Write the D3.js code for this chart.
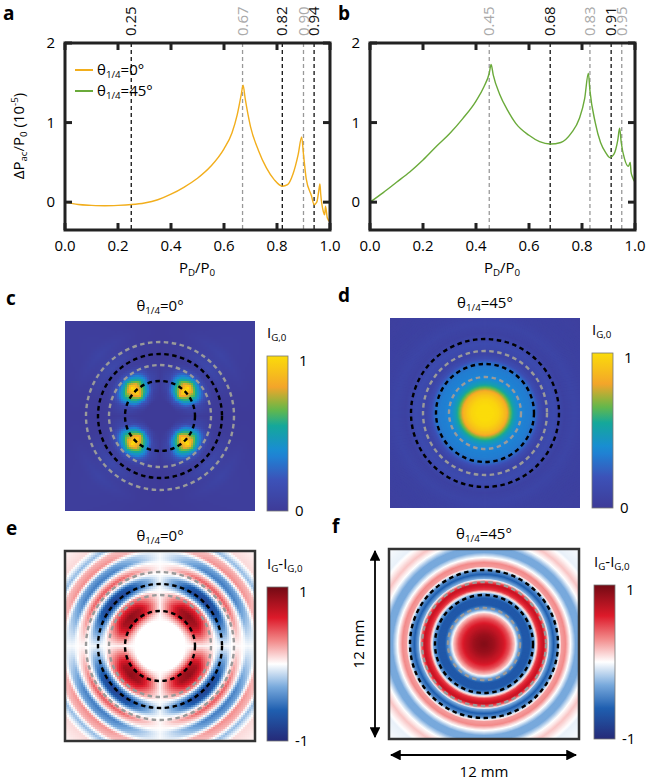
<!DOCTYPE html>
<html><head><meta charset="utf-8">
<script src="https://cdn.jsdelivr.net/npm/d3@7"></script>
<style>body{margin:0;background:#fff}svg{font-family:"Open Sans",sans-serif}</style>
</head><body><svg id="fig" width="646" height="782"></svg>
<script>
// curve in panel a (theta=0)
const aX = [0,.05,.1,.15,.2,.25,.3,.35,.4,.45,.5,.55,.6,.63,.65,.665,.672,.68,.7,.73,.76,.79,.82,.84,.86,.88,.893,.9,.91,.93,.94,.95,.958,.962,.965,.975,.98,.983,.99,1.0];
const aY = [0,-.03,-.04,-.045,-.04,-.03,-.01,.03,.1,.19,.3,.45,.67,.87,1.1,1.35,1.47,1.3,.95,.65,.43,.28,.2,.22,.35,.6,.82,.6,.3,.08,-.03,0,.15,.23,.1,-.12,-.16,-.05,-.2,-.25];
// curve in panel b (theta=45)
const bX = [0,.05,.1,.15,.2,.25,.3,.35,.4,.43,.45,.457,.465,.49,.52,.55,.6,.64,.68,.72,.76,.79,.81,.824,.83,.85,.87,.89,.905,.92,.935,.942,.948,.96,.975,.982,.985,.99,1.0];
const bY = [0,.12,.25,.38,.53,.7,.86,1.05,1.27,1.45,1.62,1.73,1.6,1.35,1.15,.99,.84,.76,.73,.75,.87,1.05,1.3,1.62,1.4,1.0,.75,.62,.56,.6,.78,.93,.75,.55,.45,.5,.38,.32,.25];
const aMarks = [0.25,0.67,0.82,0.90,0.94];
const aGray  = [false,true,false,true,false];
const bMarks = [0.45,0.68,0.83,0.91,0.95];
const bGray  = [true,false,true,false,true];
const yTicks = [0,1,2];
const xTicks = [0,.2,.4,.6,.8,1];

// radial profiles of the maps (radius in px, value)
const cR = [0,15,22,28,33,40,46,52,57,62,67,72,78,86,95,110,140];
const cV = [0,0,.3,.8,1,1,.6,.2,.06,.05,.12,.1,.05,.08,.04,.03,.02];
const angDeg = [0,15,30,45,60,75,90];
const cAng = [.02,.12,.6,1,.6,.12,.02];
const dR = [0,8,14,18,22,26,30,35,40,45,50,55,60,65,70,75,80,90,100,120,140];
const dV = [1,1,.97,.92,.85,.65,.48,.38,.35,.34,.3,.15,.08,.12,.14,.1,.06,.09,.06,.05,.04];
const eR = [0,25,30,36,42,48,53,57,62,67,72,77,82,87,92,98,104,110,118,140];
const eV = [0,0,.3,.85,.9,.6,.3,-.3,-.85,-.7,0,.45,.1,-.5,-.35,.3,.2,-.25,.1,0];
const eAng = [.05,.5,.9,1,.9,.5,.05];
const fR = [0,10,20,26,31,35,40,46,51,55,60,63,66,70,74,78,82,87,92,98,104,110,120,140];
const fV = [.95,.85,.65,.45,.15,-.3,-.65,-.65,-.3,.5,.7,.4,-.3,-.6,-.4,.25,.3,0,-.3,-.3,0,.15,-.05,0];

const svg = d3.select("#fig");
const colParula = d3.scaleLinear()
  .domain([0,.2,.38,.55,.66,.8,1])
  .range(["#3e3b98","#3c52b8","#1a8ad8","#15a89a","#6ab945","#f3a52a","#fbdc0a"]).clamp(true);
const colDiv = d3.scaleLinear()
  .domain([-1,-.6,-.3,0,.3,.6,1])
  .range(["#252a78","#1f5fb0","#78a9dc","#ffffff","#f28a8a","#dd1a2a","#730a14"]).clamp(true);

function sub(t, main, s) {
  t.append("tspan").text(main);
  t.append("tspan").attr("baseline-shift","-30%").attr("font-size","0.65em").text(s);
}

function linePanel(ox, label, lx, X, Y, col, marks, gray, legend) {
  const x = d3.scaleLinear().domain([0,1]).range([ox, ox + 265]);
  const y = d3.scaleLinear().domain([-0.35,2]).range([230, 43]);
  const g = svg.append("g");
  g.append("text").attr("x", lx).attr("y", 20).attr("font-weight","bold").attr("font-size",19).text(label);
  marks.forEach((m,i) => {
    g.append("line").attr("x1",x(m)).attr("x2",x(m)).attr("y1",43).attr("y2",230)
      .attr("stroke", gray[i] ? "#999" : "#111").attr("stroke-width",1.3).attr("stroke-dasharray","4,3");
    g.append("text").attr("transform",`translate(${x(m)+5},36) rotate(-90)`)
      .attr("font-size",15).attr("fill", gray[i] ? "#aaa" : "#111").text(m.toFixed(2));
  });
  const line = d3.line().x((d,i) => x(X[i])).y(d => y(d)).curve(d3.curveMonotoneX);
  g.append("path").attr("d", line(Y)).attr("fill","none").attr("stroke",col).attr("stroke-width",1.4);
  g.append("rect").attr("x",ox).attr("y",43).attr("width",265).attr("height",187)
    .attr("fill","none").attr("stroke","#222").attr("stroke-width",3);
  xTicks.forEach(t => {
    g.append("line").attr("x1",x(t)).attr("x2",x(t)).attr("y1",43).attr("y2",50).attr("stroke","#222").attr("stroke-width",3);
    g.append("line").attr("x1",x(t)).attr("x2",x(t)).attr("y1",223).attr("y2",230).attr("stroke","#222").attr("stroke-width",3);
    g.append("text").attr("x",x(t)).attr("y",251).attr("text-anchor","middle").attr("font-size",15).text(t.toFixed(1));
  });
  yTicks.forEach(t => {
    g.append("line").attr("x1",ox).attr("x2",ox+7).attr("y1",y(t)).attr("y2",y(t)).attr("stroke","#222").attr("stroke-width",3);
    g.append("line").attr("x1",ox+258).attr("x2",ox+265).attr("y1",y(t)).attr("y2",y(t)).attr("stroke","#222").attr("stroke-width",3);
    g.append("text").attr("x",ox-10).attr("y",y(t)+5).attr("text-anchor","end").attr("font-size",15).text(t);
  });
  const xl = g.append("text").attr("x",ox+132).attr("y",273).attr("text-anchor","middle").attr("font-size",15);
  sub(xl,"P","D"); xl.append("tspan").text("/"); sub(xl,"P","0");
  if (legend) {
    const yl = g.append("text").attr("transform",`translate(24,136) rotate(-90)`).attr("text-anchor","middle").attr("font-size",15);
    yl.append("tspan").text("ΔP"); yl.append("tspan").attr("baseline-shift","-30%").attr("font-size","0.65em").text("ac");
    yl.append("tspan").text("/P"); yl.append("tspan").attr("baseline-shift","-30%").attr("font-size","0.65em").text("0");
    yl.append("tspan").text(" (10"); yl.append("tspan").attr("baseline-shift","super").attr("font-size","0.65em").text("-5");
    yl.append("tspan").text(")");
    [["0°","#f2ae1c",70],["45°","#6aaa3a",91]].forEach(([s,c,yy]) => {
      g.append("line").attr("x1",75).attr("x2",93).attr("y1",yy).attr("y2",yy).attr("stroke",c).attr("stroke-width",2);
      const t = g.append("text").attr("x",97).attr("y",yy+5).attr("font-size",15);
      sub(t,"θ","1/4"); t.append("tspan").text("=" + s);
    });
  }
}

linePanel(65,"a",3,aX,aY,"#f2ae1c",aMarks,aGray,true);
linePanel(370,"b",338,bX,bY,"#6aaa3a",bMarks,bGray,false);

function mapPanel(o) {
  const g = svg.append("g");
  const cx = o.x0 + 95, cy = o.y0 + 95;
  g.append("text").attr("x", o.lx).attr("y", o.y0 - 16).attr("font-weight","bold").attr("font-size",19).text(o.label);
  const tt = g.append("text").attr("x",cx).attr("y",o.y0 - 10).attr("text-anchor","middle").attr("font-size",15);
  sub(tt,"θ","1/4"); tt.append("tspan").text("=" + o.ang);
  const clipId = "clip" + o.label;
  g.append("clipPath").attr("id",clipId).append("rect").attr("x",o.x0).attr("y",o.y0).attr("width",190).attr("height",190);
  const rad = d3.scaleLinear().domain(o.R).range(o.V).clamp(true);
  const ang = d3.scaleLinear().domain(angDeg).range(o.A || angDeg.map(() => 1));
  const img = g.append("g").attr("clip-path",`url(#${clipId})`);
  img.append("rect").attr("x",o.x0).attr("y",o.y0).attr("width",190).attr("height",190).attr("fill",o.col(o.bg));
  if (!o.A) {
    const rs = d3.range(140, 0, -1);
    img.selectAll("circle").data(rs).join("circle").attr("cx",cx).attr("cy",cy).attr("r",d => d)
      .attr("fill", d => o.col(rad(d)));
  } else {
    const step = 2, cells = [];
    for (let i = 0; i < 95; i++) for (let j = 0; j < 95; j++) {
      const px = o.x0 + i*step, py = o.y0 + j*step;
      const dx = px + 1 - cx, dy = py + 1 - cy;
      const r = Math.hypot(dx,dy);
      let a = Math.abs(Math.atan2(dy,dx)) * 180 / Math.PI; if (a > 90) a = 180 - a;
      cells.push({px,py,v: rad(r) * ang(a)});
    }
    img.selectAll("rect.c").data(cells).join("rect").attr("class","c").attr("x",d=>d.px).attr("y",d=>d.py)
      .attr("width",step+0.3).attr("height",step+0.3).attr("fill",d => o.col(d.v));
  }
  o.rings.forEach(([r,gray]) => {
    img.append("circle").attr("cx",cx).attr("cy",cy).attr("r",r).attr("fill","none")
      .attr("stroke", gray ? "#9a9a9a" : "#000").attr("stroke-width",2.4).attr("stroke-dasharray","4.5,3.5");
  });
  if (o.frame) g.append("rect").attr("x",o.x0).attr("y",o.y0).attr("width",190).attr("height",190)
    .attr("fill","none").attr("stroke","#333").attr("stroke-width",2.5);
  // colorbar
  const gid = "grad" + o.label;
  const gr = g.append("defs").append("linearGradient").attr("id",gid).attr("x1",0).attr("x2",0).attr("y1",1).attr("y2",0);
  const dom = o.col.domain(), lo = dom[0], hi = dom[dom.length-1];
  d3.range(0,1.001,0.05).forEach(t => gr.append("stop").attr("offset",t).attr("stop-color",o.col(lo + t*(hi-lo))));
  g.append("rect").attr("x",o.cbx).attr("y",o.cby).attr("width",21).attr("height",o.y0 + 190 - o.cby)
    .attr("fill",`url(#${gid})`).attr("stroke","#777").attr("stroke-width",0.8);
  g.append("text").attr("x",o.cbx + 32).attr("y",o.cby + 10).attr("font-size",15).text(o.hiLab);
  g.append("text").attr("x",o.cbx + 28).attr("y",o.y0 + 195).attr("font-size",15).text(o.loLab);
  const cl = g.append("text").attr("x",o.cbx).attr("y",o.cby - 18).attr("font-size",15);
  if (o.diff) { sub(cl,"I","G"); cl.append("tspan").text("-"); sub(cl,"I","G,0"); }
  else sub(cl,"I","G,0");
}

const ringsC = [[35,false],[51,true],[62,false],[74,true]];
const ringsD = [[36,true],[49,false],[62,true],[74,false]];
mapPanel({label:"c",lx:6,ang:"0°",x0:65,y0:321,R:cR,V:cV,A:cAng,col:colParula,bg:0,rings:ringsC,cbx:267,cby:356,hiLab:"1",loLab:"0"});
mapPanel({label:"d",lx:338,ang:"45°",x0:390,y0:318,R:dR,V:dV,col:colParula,bg:.04,rings:ringsD,cbx:592,cby:353,hiLab:"1",loLab:"0"});
mapPanel({label:"e",lx:6,ang:"0°",x0:65,y0:551,R:eR,V:eV,A:eAng,col:colDiv,bg:0,rings:ringsC,cbx:267,cby:587,hiLab:"1",loLab:"-1",frame:true,diff:true});
mapPanel({label:"f",lx:332,ang:"45°",x0:389,y0:549,R:fR,V:fV,col:colDiv,bg:0,rings:ringsD,cbx:594,cby:585,hiLab:"1",loLab:"-1",frame:true,diff:true});

// scale arrows
const defs = svg.append("defs");
defs.append("marker").attr("id","arr").attr("viewBox","0 0 10 10").attr("refX",9).attr("refY",5)
  .attr("markerWidth",6).attr("markerHeight",6).attr("orient","auto-start-reverse")
  .append("path").attr("d","M0,0L10,5L0,10z").attr("fill","#000");
svg.append("line").attr("x1",375).attr("x2",375).attr("y1",551).attr("y2",737).attr("stroke","#000").attr("stroke-width",1.8)
  .attr("marker-start","url(#arr)").attr("marker-end","url(#arr)");
svg.append("line").attr("x1",391).attr("x2",576).attr("y1",755).attr("y2",755).attr("stroke","#000").attr("stroke-width",1.8)
  .attr("marker-start","url(#arr)").attr("marker-end","url(#arr)");
svg.append("text").attr("transform","translate(364,644) rotate(-90)").attr("text-anchor","middle").attr("font-size",15).text("12 mm");
svg.append("text").attr("x",484).attr("y",777).attr("text-anchor","middle").attr("font-size",15).text("12 mm");
</script></body></html>
